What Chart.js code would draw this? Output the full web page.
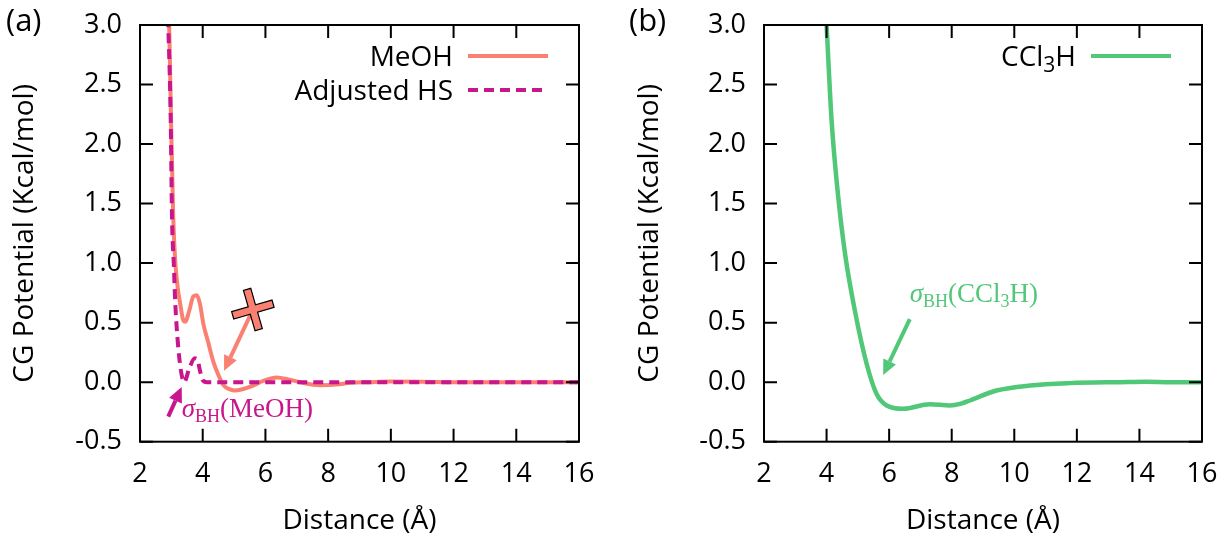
<!DOCTYPE html>
<html>
<head>
<meta charset="utf-8">
<script src="https://cdn.jsdelivr.net/npm/chart.js@4.4.0/dist/chart.umd.min.js"></script>
<style>
  html, body { margin: 0; padding: 0; background: #fff; }
  #wrap { position: relative; width: 1220px; height: 538px; }
  .panel { position: absolute; top: 0; width: 610px; height: 538px; }
</style>
</head>
<body>
<div id="wrap">
  <div class="panel" style="left:0"><canvas id="chartA" width="610" height="538"></canvas></div>
  <div class="panel" style="left:610px"><canvas id="chartB" width="610" height="538"></canvas></div>
</div>
<script>
// values
const xTicks = [2, 4, 6, 8, 10, 12, 14, 16];
const yTicks = [-0.5, 0.0, 0.5, 1.0, 1.5, 2.0, 2.5, 3.0];

const meohX = [2.9, 2.93, 2.99, 3.06, 3.12, 3.2, 3.28, 3.38, 3.44, 3.57, 3.7, 3.81, 3.91, 4.02, 4.18, 4.34, 4.5, 4.66, 4.87, 5.03, 5.5, 5.93, 6.36, 6.78, 7.1, 7.74, 8.27, 8.7, 9.3, 10.0, 11.0, 12.0, 13.0, 14.0, 15.0, 16.0];
const meohY = [3.2, 3.0, 2.2, 1.39, 1.03, 0.8, 0.66, 0.52, 0.507, 0.6, 0.72, 0.73, 0.66, 0.49, 0.33, 0.17, 0.06, -0.025, -0.06, -0.07, -0.04, 0.01, 0.04, 0.02, 0.0, -0.025, -0.02, -0.005, 0.0, 0.005, 0.004, 0.0, 0.0, 0.0, 0.0, 0.0];

const hsX = [2.87, 2.9, 2.98, 3.02, 3.08, 3.12, 3.17, 3.25, 3.33, 3.41, 3.57, 3.75, 3.83, 3.91, 4.0, 4.13, 5.0, 8.0, 12.0, 16.0];
const hsY = [3.2, 3.0, 2.2, 1.39, 0.98, 0.69, 0.46, 0.21, 0.06, 0.0, 0.115, 0.2, 0.19, 0.1, 0.017, 0.0, 0.0, 0.0, 0.0, 0.0];

const cclX = [3.96, 4.0, 4.16, 4.34, 4.59, 4.92, 5.28, 5.6, 5.92, 6.45, 7.3, 7.94, 8.3, 8.58, 9.43, 10.5, 11.78, 13.4, 14.2, 15.0, 16.0];
const cclY = [3.2, 3.0, 2.2, 1.64, 1.08, 0.58, 0.155, -0.1, -0.196, -0.224, -0.185, -0.195, -0.18, -0.154, -0.07, -0.028, -0.008, 0.0, 0.003, 0.0, 0.0];

const salmon = "#fa8072";
const magenta = "#c8168c";
const green = "#50c878";
const sans = "'Open Sans', sans-serif";
const serif = "'Liberation Serif', serif";

const toPoints = (xs, ys) => xs.map((x, i) => ({ x: x, y: ys[i] }));

// gnuplot style box with inward ticks on all four sides
const frame = {
  id: "frame",
  afterDatasetsDraw(chart) {
    const { ctx, chartArea: a, scales: { x, y } } = chart;
    ctx.save();
    ctx.strokeStyle = "#000";
    ctx.lineWidth = 2;
    ctx.beginPath();
    xTicks.forEach((v) => {
      const px = x.getPixelForValue(v);
      ctx.moveTo(px, a.bottom); ctx.lineTo(px, a.bottom - 13);
      ctx.moveTo(px, a.top); ctx.lineTo(px, a.top + 13);
    });
    yTicks.forEach((v) => {
      const py = y.getPixelForValue(v);
      ctx.moveTo(a.left, py); ctx.lineTo(a.left + 13, py);
      ctx.moveTo(a.right, py); ctx.lineTo(a.right - 13, py);
    });
    ctx.stroke();
    ctx.strokeRect(a.left, a.top, a.right - a.left, a.bottom - a.top);
    ctx.restore();
  },
};

function arrow(ctx, x1, y1, x2, y2, color) {
  const ang = Math.atan2(y2 - y1, x2 - x1);
  const hl = 15, hw = 7;
  const bx = x2 - hl * Math.cos(ang), by = y2 - hl * Math.sin(ang);
  ctx.save();
  ctx.strokeStyle = color;
  ctx.fillStyle = color;
  ctx.lineWidth = 4;
  ctx.beginPath();
  ctx.moveTo(x1, y1);
  ctx.lineTo(bx, by);
  ctx.stroke();
  ctx.beginPath();
  ctx.moveTo(x2, y2);
  ctx.lineTo(bx + hw * Math.sin(ang), by - hw * Math.cos(ang));
  ctx.lineTo(bx - hw * Math.sin(ang), by + hw * Math.cos(ang));
  ctx.closePath();
  ctx.fill();
  ctx.restore();
}

// pieces: [text, size, italic, dy]
function richText(ctx, x, y, pieces, color, family) {
  ctx.save();
  ctx.fillStyle = color;
  ctx.textBaseline = "alphabetic";
  ctx.textAlign = "left";
  let cx = x;
  pieces.forEach(([t, size, italic, dy]) => {
    ctx.font = (italic ? "italic " : "") + size + "px " + family;
    ctx.fillText(t, cx, y + dy);
    cx += ctx.measureText(t).width;
  });
  ctx.restore();
  return cx - x;
}

function textWidth(ctx, pieces, family) {
  let w = 0;
  ctx.save();
  pieces.forEach(([t, size, italic]) => {
    ctx.font = (italic ? "italic " : "") + size + "px " + family;
    w += ctx.measureText(t).width;
  });
  ctx.restore();
  return w;
}

function legendRow(ctx, a, row, pieces, color, dash) {
  const y = a.top + 31 + row * 34;
  const w = textWidth(ctx, pieces, sans);
  richText(ctx, a.right - 126 - w, y + 10, pieces, "#000", sans);
  ctx.save();
  ctx.strokeStyle = color;
  ctx.lineWidth = 4;
  ctx.setLineDash(dash);
  ctx.beginPath();
  ctx.moveTo(a.right - 111, y);
  ctx.lineTo(a.right - 31, y);
  ctx.stroke();
  ctx.restore();
}

const notesA = {
  id: "notesA",
  afterDraw(chart) {
    const { ctx, chartArea: a, scales: { x, y } } = chart;
    // legend
    legendRow(ctx, a, 0, [["MeOH", 28, false, 0]], salmon, []);
    legendRow(ctx, a, 1, [["Adjusted HS", 28, false, 0]], magenta, [10, 6]);
    // panel letter
    richText(ctx, 6, 31, [["(a)", 31, false, 0]], "#000", sans);
    // crossed-out arrow
    const cx = x.getPixelForValue(5.6), cy = y.getPixelForValue(0.61);
    arrow(ctx, cx, cy, x.getPixelForValue(4.68), y.getPixelForValue(0.095), salmon);
    ctx.save();
    ctx.translate(cx, cy);
    ctx.rotate(-16 * Math.PI / 180);
    const L = 21, w = 3.8;
    ctx.beginPath();
    [[-L, -w], [-w, -w], [-w, -L], [w, -L], [w, -w], [L, -w], [L, w], [w, w], [w, L], [-w, L], [-w, w], [-L, w]]
      .forEach(([px, py], i) => (i ? ctx.lineTo(px, py) : ctx.moveTo(px, py)));
    ctx.closePath();
    ctx.fillStyle = salmon;
    ctx.fill();
    ctx.strokeStyle = "#000";
    ctx.lineWidth = 1.2;
    ctx.stroke();
    ctx.restore();
    // sigma_BH(MeOH)
    arrow(ctx, x.getPixelForValue(2.9), y.getPixelForValue(-0.29), x.getPixelForValue(3.33), y.getPixelForValue(-0.04), magenta);
    richText(ctx, x.getPixelForValue(3.33), y.getPixelForValue(-0.29), [
      ["σ", 27, true, 0], ["BH", 18, false, 5], ["(MeOH)", 27, false, 0],
    ], magenta, serif);
  },
};

const notesB = {
  id: "notesB",
  afterDraw(chart) {
    const { ctx, chartArea: a, scales: { x, y } } = chart;
    legendRow(ctx, a, 0, [["CCl", 28, false, 0], ["3", 21, false, 6], ["H", 28, false, 0]], green, []);
    richText(ctx, 19, 31, [["(b)", 31, false, 0]], "#000", sans);
    arrow(ctx, x.getPixelForValue(6.66), y.getPixelForValue(0.53), x.getPixelForValue(5.81), y.getPixelForValue(0.06), green);
    richText(ctx, x.getPixelForValue(6.66), y.getPixelForValue(0.674), [
      ["σ", 27, true, 0], ["BH", 18, false, 5], ["(CCl", 27, false, 0], ["3", 18, false, 5], ["H)", 27, false, 0],
    ], green, serif);
  },
};

function makeOptions(axisWidth, padRight, titlePad) {
  return {
    responsive: false,
    animation: false,
    layout: { padding: { left: 0, right: padRight, top: 25, bottom: 0 } },
    plugins: { legend: { display: false }, tooltip: { enabled: false } },
    elements: { point: { radius: 0 } },
    scales: {
      x: {
        type: "linear",
        min: 2,
        max: 16,
        afterBuildTicks: (s) => { s.ticks = xTicks.map((v) => ({ value: v })); },
        afterFit: (s) => { s.height = 96.3; s.paddingLeft = 0; s.paddingRight = 0; },
        grid: { display: false, drawTicks: false },
        border: { display: false },
        ticks: { color: "#000", padding: 16, font: { family: sans, size: 27 } },
        title: { display: true, text: "Distance (Å)", color: "#000", padding: { top: 0, bottom: 0 }, font: { family: sans, size: 28 } },
      },
      y: {
        type: "linear",
        min: -0.5,
        max: 3.0,
        afterBuildTicks: (s) => { s.ticks = yTicks.map((v) => ({ value: v })); },
        afterFit: (s) => { s.width = axisWidth; s.paddingTop = 0; s.paddingBottom = 0; },
        grid: { display: false, drawTicks: false },
        border: { display: false },
        ticks: { color: "#000", padding: 18, font: { family: sans, size: 27 }, callback: (v) => Number(v).toFixed(1) },
        title: { display: true, text: "CG Potential (Kcal/mol)", color: "#000", padding: { top: titlePad, bottom: 0 }, font: { family: sans, size: 28 } },
      },
    },
  };
}

new Chart(document.getElementById("chartA"), {
  type: "line",
  data: {
    datasets: [
      {
        label: "MeOH",
        data: toPoints(meohX, meohY),
        borderColor: salmon,
        borderWidth: 4,
        cubicInterpolationMode: "monotone",
        order: 2,
      },
      {
        label: "Adjusted HS",
        data: toPoints(hsX, hsY),
        borderColor: magenta,
        borderWidth: 4,
        borderDash: [10, 6],
        cubicInterpolationMode: "monotone",
        order: 1,
      },
    ],
  },
  options: makeOptions(140, 31, 8),
  plugins: [frame, notesA],
});

new Chart(document.getElementById("chartB"), {
  type: "line",
  data: {
    datasets: [
      {
        label: "CCl3H",
        data: toPoints(cclX, cclY),
        borderColor: green,
        borderWidth: 4.5,
        cubicInterpolationMode: "monotone",
      },
    ],
  },
  options: makeOptions(154, 18, 23),
  plugins: [frame, notesB],
});
</script>
</body>
</html>
